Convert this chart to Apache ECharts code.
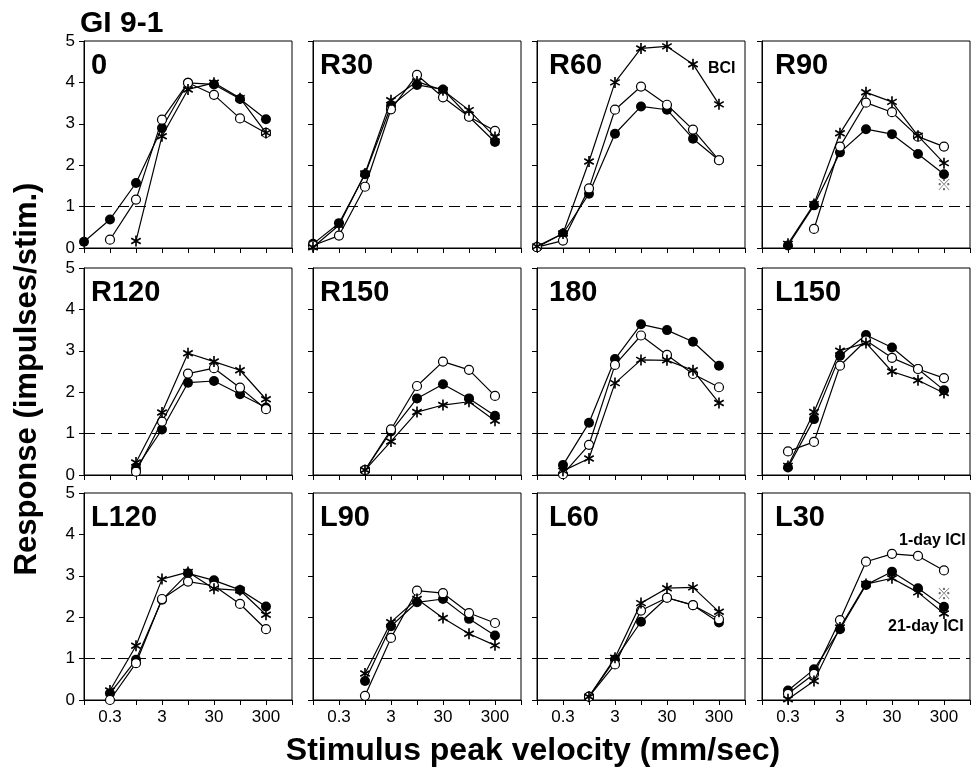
<!DOCTYPE html>
<html><head><meta charset="utf-8">
<script src="https://cdn.jsdelivr.net/npm/echarts@6.0.0/dist/echarts.min.js"></script>
<style>html,body{margin:0;padding:0;background:#fff}#c{width:976px;height:773px}</style>
</head><body><div id="c"></div>
<script>
// ---------------- data ----------------
const velocity = [0.1, 0.316, 1, 3.16, 10, 31.6, 100, 316];   // mm/sec, half-decade steps
const panelNames = ['0','R30','R60','R90','R120','R150','180','L150','L120','L90','L60','L30'];
const xTickValues = [0.3, 3, 30, 300];
const xTickLabels = ['0.3','3','30','300'];
const threshold = 1;

// 21-day ICI (filled circles)
const d21_0    = [0.15, 0.69, 1.57, 2.90, 3.99, 3.95, 3.60, 3.11];
const d21_R30  = [0.10, 0.60, 1.78, 3.43, 3.94, 3.83, 3.17, 2.56];
const d21_R60  = [0.02, 0.35, 1.31, 2.76, 3.42, 3.34, 2.64, 2.12];
const d21_R90  = [null, 0.06, 1.03, 2.31, 2.87, 2.75, 2.27, 1.78];
const d21_R120 = [null, null, 0.16, 1.10, 2.23, 2.27, 1.95, 1.63];
const d21_R150 = [null, null, 0.12, 1.05, 1.85, 2.19, 1.85, 1.43];
const d21_180  = [null, 0.24, 1.26, 2.80, 3.64, 3.50, 3.22, 2.64];
const d21_L150 = [null, 0.18, 1.35, 2.88, 3.38, 3.08, 2.56, 2.05];
const d21_L120 = [null, 0.16, 0.97, 2.42, 3.06, 2.89, 2.66, 2.26];
const d21_L90  = [null, null, 0.46, 1.78, 2.36, 2.44, 1.96, 1.56];
const d21_L60  = [null, null, 0.08, 0.98, 1.89, 2.47, 2.29, 1.87];
const d21_L30  = [null, 0.23, 0.74, 1.71, 2.78, 3.10, 2.70, 2.25];

// 1-day ICI (open circles)
const d1_0    = [null, 0.20, 1.17, 3.10, 3.99, 3.70, 3.13, 2.78];
const d1_R30  = [0.06, 0.30, 1.48, 3.35, 4.18, 3.64, 3.17, 2.83];
const d1_R60  = [0.02, 0.18, 1.44, 3.34, 3.90, 3.46, 2.86, 2.12];
const d1_R90  = [null, null, 0.46, 2.45, 3.51, 3.28, 2.69, 2.45];
const d1_R120 = [null, null, 0.08, 1.29, 2.45, 2.58, 2.11, 1.59];
const d1_R150 = [null, null, 0.12, 1.10, 2.15, 2.74, 2.54, 1.91];
const d1_180  = [null, 0.02, 0.73, 2.66, 3.37, 2.90, 2.44, 2.12];
const d1_L150 = [null, 0.57, 0.80, 2.64, 3.25, 2.83, 2.56, 2.34];
const d1_L120 = [null, 0.00, 0.89, 2.44, 2.86, 2.76, 2.32, 1.71];
const d1_L90  = [null, null, 0.10, 1.50, 2.64, 2.58, 2.10, 1.86];
const d1_L60  = [null, null, 0.08, 0.86, 2.16, 2.47, 2.29, 1.95];
const d1_L30  = [null, 0.15, 0.63, 1.93, 3.34, 3.53, 3.48, 3.13];

// BCI (asterisks)
const bci_0    = [null, null, 0.17, 2.70, 3.83, 3.99, 3.62, 2.78];
const bci_R30  = [0.02, 0.55, 1.80, 3.57, 4.02, 3.81, 3.33, 2.68];
const bci_R60  = [0.04, 0.35, 2.09, 4.00, 4.82, 4.87, 4.44, 3.47];
const bci_R90  = [null, 0.10, 1.06, 2.77, 3.76, 3.53, 2.71, 2.05];
const bci_R120 = [null, null, 0.30, 1.51, 2.94, 2.74, 2.53, 1.83];
const bci_R150 = [null, null, 0.12, 0.81, 1.52, 1.69, 1.77, 1.31];
const bci_180  = [null, 0.10, 0.40, 2.22, 2.78, 2.77, 2.53, 1.74];
const bci_L150 = [null, 0.22, 1.52, 3.00, 3.19, 2.50, 2.29, 1.98];
const bci_L120 = [null, 0.23, 1.31, 2.92, 3.09, 2.69, 2.65, 2.06];
const bci_L90  = [null, null, 0.64, 1.88, 2.44, 1.98, 1.60, 1.32];
const bci_L60  = [null, null, 0.08, 1.02, 2.34, 2.70, 2.72, 2.13];
const bci_L30  = [null, 0.02, 0.46, 1.75, 2.80, 2.94, 2.60, 2.09];

// significance marks (※)
const sig_R90 = [[316, 1.53]];
const sig_L30 = [[316, 2.58]];

// ---------------- build ----------------
const D21 = [d21_0,d21_R30,d21_R60,d21_R90,d21_R120,d21_R150,d21_180,d21_L150,d21_L120,d21_L90,d21_L60,d21_L30];
const D1  = [d1_0,d1_R30,d1_R60,d1_R90,d1_R120,d1_R150,d1_180,d1_L150,d1_L120,d1_L90,d1_L60,d1_L30];
const BCI = [bci_0,bci_R30,bci_R60,bci_R90,bci_R120,bci_R150,bci_180,bci_L150,bci_L120,bci_L90,bci_L60,bci_L30];
const SIG = {3: sig_R90, 11: sig_L30};

const FONT = "'Liberation Sans', Arial, Helvetica, sans-serif";
const colLeft = [84, 313, 537, 762];
const rowTop = [41, 268, 493];
const W = 208, H = 207;
const labelInset = [7, 7, 12, 13];

function asteriskPath() {
  const L = 10, w = 1.5, parts = [];
  [90, 30, 150].forEach(a => {
    const t = a * Math.PI / 180, dx = Math.cos(t), dy = Math.sin(t), nx = -dy, ny = dx;
    const p = [[L*dx + w*nx, L*dy + w*ny], [-L*dx + w*nx, -L*dy + w*ny], [-L*dx - w*nx, -L*dy - w*ny], [L*dx - w*nx, L*dy - w*ny]];
    parts.push('M' + p.map(q => q[0].toFixed(3) + ' ' + q[1].toFixed(3)).join(' L') + ' Z');
  });
  return 'path://' + parts.join(' ');
}
const STAR = asteriskPath();

function pairs(vals) {
  const out = [];
  vals.forEach((v, k) => { if (v != null) out.push([velocity[k], v]); });
  return out;
}
function xLabel(v) {
  const k = Math.round(2 * Math.log10(v));
  for (let j = 0; j < xTickValues.length; j++) {
    if (Math.round(2 * Math.log10(xTickValues[j])) === k) return xTickLabels[j];
  }
  return '';
}

const grids = [], xAxes = [], yAxes = [], series = [], graphics = [];
panelNames.forEach((name, i) => {
  const r = Math.floor(i / 4), c = i % 4;
  grids.push({left: colLeft[c], top: rowTop[r], width: W, height: H, show: true,
              borderColor: '#000', borderWidth: 1, backgroundColor: 'transparent'});
  xAxes.push({type: 'log', logBase: Math.sqrt(10), gridIndex: i, min: 0.1, max: 1000, splitNumber: 8,
    axisLine: {show: true, lineStyle: {color: '#000', width: 1}},
    axisTick: {show: true, length: 5, lineStyle: {color: '#000', width: 1}},
    splitLine: {show: false}, minorTick: {show: false},
    axisLabel: {show: r === 2, formatter: xLabel, fontFamily: FONT, fontSize: 17, color: '#000', margin: 9,
                showMinLabel: true, showMaxLabel: true, hideOverlap: false}});
  yAxes.push({type: 'value', gridIndex: i, min: 0, max: 5, interval: 1,
    axisLine: {show: true, lineStyle: {color: '#000', width: 1}},
    axisTick: {show: true, length: 5, lineStyle: {color: '#000', width: 1}},
    splitLine: {show: false},
    axisLabel: {show: c === 0, fontFamily: FONT, fontSize: 17, color: '#000', margin: 9}});

  const common = {type: 'line', xAxisIndex: i, yAxisIndex: i, silent: true,
    lineStyle: {color: '#000', width: 1.2}, emphasis: {disabled: true}};
  series.push(Object.assign({}, common, {name: '21-day ICI', data: pairs(D21[i]), symbol: 'circle', symbolSize: 10,
    itemStyle: {color: '#000'}, z: 3,
    markLine: {silent: true, symbol: 'none', label: {show: false},
      lineStyle: {color: '#000', width: 1, type: [11, 6]}, data: [{yAxis: threshold}]}}));
  series.push(Object.assign({}, common, {name: '1-day ICI', data: pairs(D1[i]), symbol: 'circle', symbolSize: 9,
    itemStyle: {color: '#fff', borderColor: '#000', borderWidth: 1.2}, z: 4}));
  series.push(Object.assign({}, common, {name: 'BCI', data: pairs(BCI[i]), symbol: STAR, symbolSize: 11,
    symbolKeepAspect: true, itemStyle: {color: '#000'}, z: 5}));
  if (SIG[i]) {
    series.push({type: 'scatter', xAxisIndex: i, yAxisIndex: i, silent: true, data: SIG[i],
      symbolSize: 1, itemStyle: {color: 'rgba(0,0,0,0)'}, z: 6,
      label: {show: true, position: 'inside', formatter: '\u203B', fontSize: 15, color: '#444',
              fontFamily: "'Noto Sans CJK JP', sans-serif"}});
  }
  graphics.push({type: 'text', left: colLeft[c] + labelInset[c], top: rowTop[r] + 10,
    style: {text: name, font: 'bold 29px ' + FONT, fill: '#000'}});
});

graphics.push({type: 'text', left: 80, top: 9, style: {text: 'GI 9-1', font: 'bold 30px ' + FONT, fill: '#000'}});
graphics.push({type: 'text', x: 27, y: 379, rotation: Math.PI / 2,
  style: {text: 'Response (impulses/stim.)', font: 'bold 31px ' + FONT, fill: '#000', align: 'center', verticalAlign: 'middle'}});
graphics.push({type: 'text', x: 533, y: 751,
  style: {text: 'Stimulus peak velocity (mm/sec)', font: 'bold 32px ' + FONT, fill: '#000', align: 'center', verticalAlign: 'middle'}});
graphics.push({type: 'text', x: 708, y: 69, style: {text: 'BCI', font: 'bold 16px ' + FONT, fill: '#000', verticalAlign: 'middle'}});
graphics.push({type: 'text', x: 899, y: 541, style: {text: '1-day ICI', font: 'bold 16px ' + FONT, fill: '#000', verticalAlign: 'middle'}});
graphics.push({type: 'text', x: 888, y: 627, style: {text: '21-day ICI', font: 'bold 16px ' + FONT, fill: '#000', verticalAlign: 'middle'}});

const chart = echarts.init(document.getElementById('c'), null, {renderer: 'canvas'});
chart.setOption({
  animation: false,
  backgroundColor: '#fff',
  textStyle: {fontFamily: FONT},
  grid: grids, xAxis: xAxes, yAxis: yAxes, series: series, graphic: graphics
});
</script></body></html>
